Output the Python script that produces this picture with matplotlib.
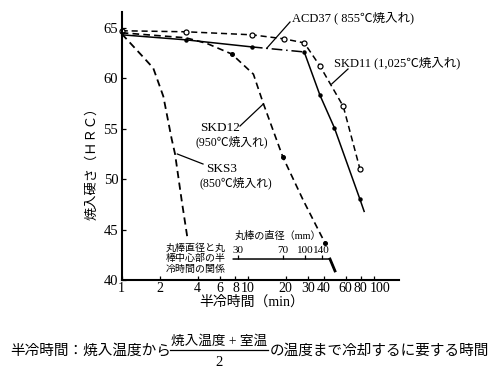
import matplotlib
matplotlib.use("Agg")
import matplotlib.pyplot as plt
from matplotlib.lines import Line2D
from matplotlib.ticker import NullLocator
from matplotlib.transforms import ScaledTranslation

plt.rcParams["font.family"] = ["Liberation Serif", "Noto Sans CJK JP"]

W, H = 500, 376

# half-cooling time (min) vs. as-quenched hardness (HRC)
skd11_t = [1, 3.24, 10.8, 19.4, 28.1, 37.5, 57.4, 77.8]
skd11_v = [64.7, 64.6, 64.3, 63.9, 63.5, 61.2, 57.2, 51.0]

acd37_t = [1, 3.24, 10.8, 28.1, 37.5, 48.7, 77.8, 84]
acd37_v = [64.3, 63.8, 63.1, 62.6, 58.3, 55.1, 48.0, 46.8]

skd12_t = [1, 3.24, 4.73, 7.46, 11.1, 13.3, 19.0, 27.6, 38.7, 41.1]
skd12_v = [64.5, 64.0, 63.45, 62.4, 60.4, 57.5, 52.2, 47.9, 44.3, 43.7]

sks3_t = [1, 1.48, 1.78, 2.14, 2.49, 2.65, 3.0, 3.33]
sks3_v = [64.4, 62.1, 61.0, 58.2, 54.0, 52.5, 47.8, 44.1]

# inset: bar diameter (mm) vs half-cooling time at bar centre
diam_labels = ["30", "70", "100", "140"]
diam_t = [8.42, 19.0, 28.5, 38.7]
inset_t = [7.69, 45, 49.3]
inset_v = [42.08, 42.08, 40.9]

xticks = [1, 2, 4, 6, 8, 10, 20, 30, 40, 60, 80, 100]
yticks = [40, 45, 50, 55, 60, 65]


def fp(x, y):
    """pixel position -> figure fraction"""
    return x / W, 1 - y / H


def leader(x0, y0, x1, y1, lw=0.9):
    fig.add_artist(Line2D([x0 / W, x1 / W], [1 - y0 / H, 1 - y1 / H],
                          color="black", lw=lw))


fig = plt.figure(figsize=(W / 100, H / 100), dpi=100)
ax = fig.add_axes([121.7 / W, 1 - 280 / H, (399.4 - 121.7) / W, (280 - 11.6) / H])
ax.set_xscale("log")
ax.set_xlim(1, 160)
ax.set_ylim(40, 66.6)

dash = (0, (4, 2.5))
ax.plot(skd11_t, skd11_v, color="black", lw=1.1, linestyle=dash,
        marker="o", ms=3.6, mfc="white", mec="black", mew=0.9, clip_on=False)
ax.plot(acd37_t[:3], acd37_v[:3], color="black", lw=1.1, clip_on=False)
ax.plot(acd37_t[2:4], acd37_v[2:4], color="black", lw=1.1,
        linestyle=(0, (7, 2.5, 1, 2.5)), clip_on=False)
ax.plot(acd37_t[3:], acd37_v[3:], color="black", lw=1.1, clip_on=False)
ax.plot(acd37_t[1:-1], acd37_v[1:-1], linestyle="none", marker="o", ms=2.2,
        color="black")
ax.plot(skd12_t, skd12_v, color="black", lw=1.2, linestyle=dash,
        marker="o", ms=2.6, markevery=[3, 6, 9], clip_on=False)
ax.plot(sks3_t, sks3_v, color="black", lw=1.3, linestyle=dash, clip_on=False)

# inset scale
ax.plot(inset_t, inset_v, color="black", lw=1.1)
ax.plot(inset_t[1:], inset_v[1:], color="black", lw=2.0)
ax.plot(diam_t, [inset_v[0]] * len(diam_t), linestyle="none", marker=2,
        ms=3, mew=0.9, color="black")
for t, lab in zip(diam_t, diam_labels):
    ax.text(t, 42.9, lab, ha="center", va="center", fontsize=8)

ax.set_xticks(xticks)
ax.set_xticklabels([str(t) for t in xticks])
ax.xaxis.set_minor_locator(NullLocator())
ax.set_yticks(yticks)
ax.tick_params(direction="in", length=3, width=0.9, labelsize=10.5)
ax.tick_params(axis="x", labelsize=10, pad=1.5)
ax.tick_params(axis="y", pad=2.5)
for s in ("top", "right"):
    ax.spines[s].set_visible(False)
for s in ("left", "bottom"):
    ax.spines[s].set_linewidth(1.5)

# last labels sit a little apart in the original
labs = ax.get_xticklabels()
labs[-1].set_transform(labs[-1].get_transform() + ScaledTranslation(6 / 100, 0, fig.dpi_scale_trans))
labs[-2].set_transform(labs[-2].get_transform() + ScaledTranslation(-1 / 100, 0, fig.dpi_scale_trans))

# axis titles
fig.text(*fp(92, 160), "焼入硬さ（ＨＲＣ）", rotation=90, ha="center", va="center",
         fontsize=9.5)
fig.text(*fp(252, 302), "半冷時間（min）", ha="center", va="center", fontsize=10)

# curve labels
fig.text(*fp(292, 18), "ACD37 ( 855℃焼入れ)", ha="left", va="center", fontsize=9)
leader(290, 22, 266.7, 48.3)
fig.text(*fp(334, 63), "SKD11 (1,025℃焼入れ)", ha="left", va="center", fontsize=9)
leader(348, 69, 331.7, 84)
fig.text(*fp(200, 128), "SKD12", ha="left", va="center", fontsize=9.5)
fig.text(*fp(195, 142), "(950℃焼入れ)", ha="left", va="center", fontsize=8.5)
leader(240, 126, 263.3, 104)
fig.text(*fp(206, 169), "SKS3", ha="left", va="center", fontsize=9.5)
fig.text(*fp(200, 183), "(850℃焼入れ)", ha="left", va="center", fontsize=8.5)
leader(203, 164, 177.3, 154)

# inset captions
for i, line in enumerate(["丸棒直径と丸", "棒中心部の半", "冷時間の関係"]):
    fig.text(*fp(166, 248 + 10.5 * i), line, ha="left", va="center", fontsize=7.2)
fig.text(*fp(235, 236), "丸棒の直径（mm）", ha="left", va="center", fontsize=7.3)

# footnote with fraction
fig.text(*fp(10, 351), "半冷時間：焼入温度から", ha="left", va="center", fontsize=10.5)
fig.text(*fp(219, 341), "焼入温度 + 室温", ha="center", va="center", fontsize=9.8)
leader(170, 350, 268, 350, lw=0.9)
fig.text(*fp(219, 362), "2", ha="center", va="center", fontsize=10.5)
fig.text(*fp(270, 351), "の温度まで冷却するに要する時間", ha="left", va="center",
         fontsize=10.5)

fig.savefig("out.png", dpi=100, facecolor="white")
